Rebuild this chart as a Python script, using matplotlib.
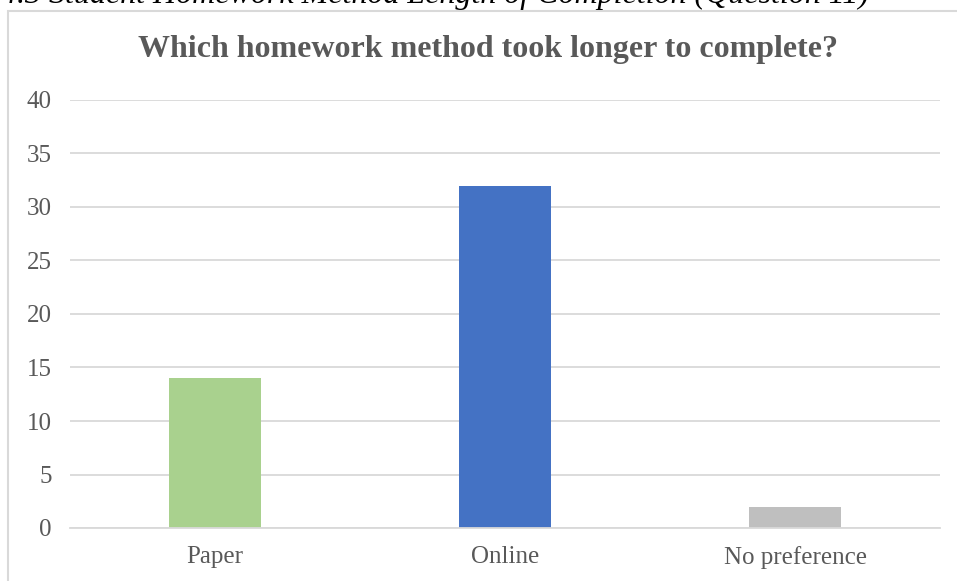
import matplotlib
matplotlib.use("Agg")
import matplotlib.pyplot as plt
from matplotlib.patches import Rectangle

categories = ["Paper", "Online", "No preference"]
values = [14, 32, 2]
colors = ["#a9d18e", "#4472c4", "#bfbfbf"]
yticks = [0, 5, 10, 15, 20, 25, 30, 35, 40]
title = "Which homework method took longer to complete?"
caption = "4.3 Student Homework Method Length of Completion (Question 11)"

W, H = 957, 581
fig = plt.figure(figsize=(W / 100, H / 100), dpi=100)
serif = ["Liberation Serif", "DejaVu Serif"]
gray = "#595959"

# outer chart frame
fig.patches.append(Rectangle((8 / W, -0.05), 1.1, 1 - 11 / H + 0.05,
                             transform=fig.transFigure, fill=False,
                             edgecolor="#d9d9d9", linewidth=1.5))

# clipped caption at top
fig.text(869 / W, 1 - 3 / H, caption, ha="right", va="baseline",
         fontsize=23, fontstyle="italic", family=serif, color="black")

ax = fig.add_axes([70 / W, 1 - 528 / H, 870 / W, 428 / H])
x = list(range(len(categories)))
ax.bar(x, values, width=0.314, color=colors, zorder=3)
ax.set_xlim(-0.5, len(categories) - 0.5)
ax.set_ylim(0, 40)
ax.set_yticks(yticks)
ax.set_yticklabels([str(t) for t in yticks], family=serif, fontsize=18, color=gray)
ax.set_xticks(x)
ax.set_xticklabels(categories, family=serif, fontsize=18, color=gray)
ax.tick_params(axis="both", length=0)
ax.tick_params(axis="y", pad=13)
ax.tick_params(axis="x", pad=13)
ax.grid(axis="y", color="#d9d9d9", linewidth=1.3, zorder=0)
for s in ["top", "right", "left"]:
    ax.spines[s].set_visible(False)
ax.spines["bottom"].set_color("#d9d9d9")
ax.spines["bottom"].set_linewidth(1.3)
ax.spines["bottom"].set_zorder(4)

fig.text(488 / W, 1 - 50 / H, title, ha="center", va="center",
         fontsize=23, fontweight="bold", family=serif, color=gray)

fig.savefig("out.png", dpi=100)
